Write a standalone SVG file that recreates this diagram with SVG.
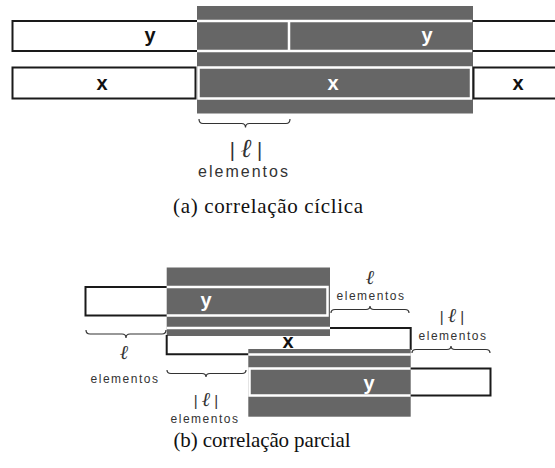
<svg xmlns="http://www.w3.org/2000/svg" width="555" height="468" viewBox="0 0 555 468">
<style>
.bg{fill:#ffffff}
.gray{fill:#666666}
.blk{fill:none;stroke:#1a1a1a;stroke-width:2}
.wht{fill:none;stroke:#ffffff;stroke-width:2.5}
.lbl{font-family:"Liberation Sans",Arial,sans-serif;font-weight:bold;font-size:20px;text-anchor:middle}
.lblw{fill:#ffffff}
.lblb{fill:#111111}
.brace{fill:none;stroke:#333333;stroke-width:1.2}
.elA{font-family:"Liberation Sans",Arial,sans-serif;font-size:16px;letter-spacing:2px;fill:#333333;text-anchor:middle}
.elB{font-family:"Liberation Sans",Arial,sans-serif;font-size:12px;letter-spacing:1.5px;fill:#333333;text-anchor:middle}
.ellA{font-family:"Liberation Sans",Arial,sans-serif;font-size:20px;fill:#333333;text-anchor:middle}
.ellB{font-family:"Liberation Sans",Arial,sans-serif;font-size:15px;fill:#333333;text-anchor:middle}
.ell{font-family:"DejaVu Serif","Liberation Serif",serif;font-style:italic}
.ellBig{font-size:26px}
.ellMid{font-size:20px}
.cap{font-family:"Liberation Serif","DejaVu Serif",serif;font-size:21px;fill:#111111;text-anchor:middle}
</style>
<rect class="bg" x="0" y="0" width="555" height="468"/>

<!-- (a) correlação cíclica -->
<g id="a-gray-block">
  <rect class="gray" x="197" y="6" width="276" height="107.5"/>
</g>
<g id="a-y-row">
  <path class="blk" d="M197,21 H12.5 V51 H197"/>
  <path class="blk" d="M473,21 H555 M473,51 H555"/>
  <path class="wht" d="M197,21 H472 M197,51 H472 M289,21 V51"/>
  <text class="lbl lblb" x="150" y="42">y</text>
  <text class="lbl lblw" x="427" y="42">y</text>
</g>
<g id="a-x-row">
  <rect class="blk" x="12.5" y="67.5" width="183" height="31"/>
  <rect class="wht" x="198.5" y="67.5" width="272.5" height="31"/>
  <path class="blk" d="M555,67.5 H473.5 V98.5 H555"/>
  <text class="lbl lblb" x="102" y="90">x</text>
  <text class="lbl lblw" x="333" y="90">x</text>
  <text class="lbl lblb" x="518" y="90">x</text>
</g>
<g id="a-brace">
  <path class="brace" d="M199,119 Q199,123.5 203,123.5 L241.5,123.5 Q245.5,123.5 245.5,127.5 Q245.5,123.5 249.5,123.5 L286,123.5 Q290,123.5 290,119"/>
  <text class="ellA" x="246" y="157">| <tspan class="ell ellBig">ℓ</tspan> |</text>
  <text class="elA" x="244" y="177">elementos</text>
</g>
<text class="cap" x="268" y="213" textLength="190" lengthAdjust="spacing">(a) correlação cíclica</text>

<!-- (b) correlação parcial -->
<g id="b-y-row-top">
  <path class="blk" d="M167,287 H85.5 V315.5 H167"/>
</g>
<g id="b-gray-block-1">
  <rect class="gray" x="166.7" y="267.5" width="163.3" height="68.5"/>
  <path class="wht" d="M166.7,287 H327.5 V315.5 H166.7"/>
  <text class="lbl lblw" x="206" y="307">y</text>
</g>
<g id="b-x-row">
  <path class="wht" d="M166.7,328 H330"/>
  <path class="blk" d="M330,328 H410.7 V350 M166.7,335 V354.3 H249"/>
  <text class="lbl lblb" x="288" y="348">x</text>
</g>
<g id="b-gray-block-2">
  <rect class="gray" x="248.3" y="349" width="162.4" height="67.7"/>
  <path class="wht" d="M248.3,354.5 H410.7"/>
  <path class="wht" d="M410.7,368.5 H249.5 V395.5 H410.7"/>
  <text class="lbl lblw" x="369" y="390">y</text>
</g>
<g id="b-y-row-bottom">
  <path class="blk" d="M410.7,368.5 H490.5 V395.5 H410.7"/>
</g>
<g id="b-braces">
  <path class="brace" d="M86,330 Q86,334 90,334 L122,334 Q126,334 126,338 Q126,334 130,334 L162,334 Q166,334 166,330"/>
  <text class="ellB" x="124" y="359"><tspan class="ell ellMid">ℓ</tspan></text>
  <text class="elB" x="125" y="383">elementos</text>

  <path class="brace" d="M167,370 Q167,373.5 171,373.5 L202,373.5 Q206,373.5 206,377 Q206,373.5 210,373.5 L242,373.5 Q246,373.5 246,370"/>
  <text class="ellB" x="206" y="406">| <tspan class="ell ellMid">ℓ</tspan> |</text>
  <text class="elB" x="205" y="423">elementos</text>

  <path class="brace" d="M331,313 Q331,309.5 335,309.5 L366,309.5 Q370,309.5 370,306 Q370,309.5 374,309.5 L405,309.5 Q409,309.5 409,313"/>
  <text class="ellB" x="370" y="284"><tspan class="ell ellMid">ℓ</tspan></text>
  <text class="elB" x="371" y="300">elementos</text>

  <path class="brace" d="M412,353 Q412,349.5 416,349.5 L447,349.5 Q451,349.5 451,346 Q451,349.5 455,349.5 L486,349.5 Q490,349.5 490,353"/>
  <text class="ellB" x="452" y="322">| <tspan class="ell ellMid">ℓ</tspan> |</text>
  <text class="elB" x="453" y="340">elementos</text>
</g>
<text class="cap" x="262" y="447" textLength="177" lengthAdjust="spacing">(b) correlação parcial</text>
</svg>
